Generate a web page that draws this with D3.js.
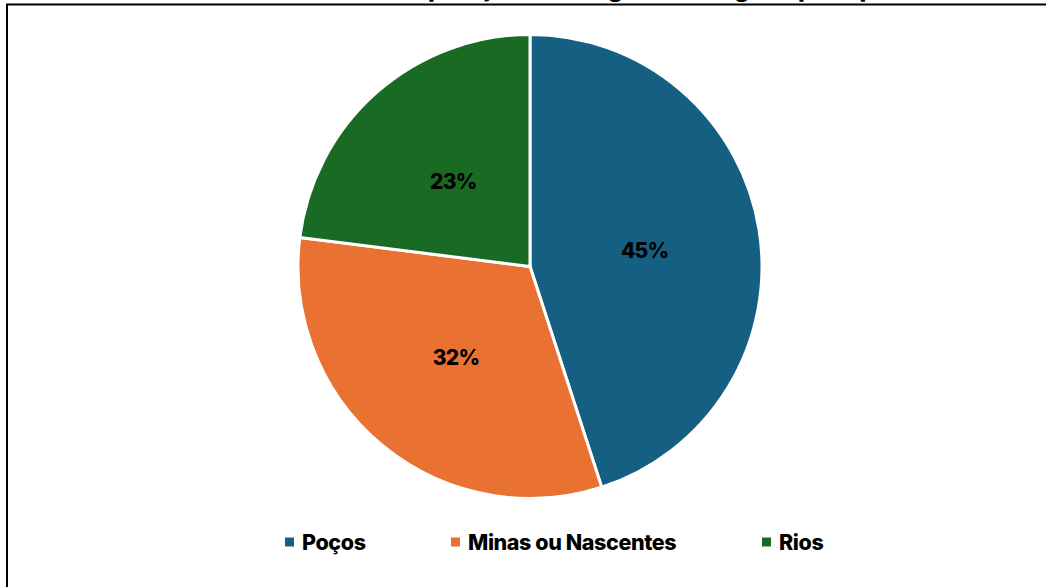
<!DOCTYPE html>
<html>
<head>
<meta charset="utf-8">
<script src="https://cdn.jsdelivr.net/npm/d3@7"></script>
<style>
  html, body { margin: 0; padding: 0; background: #fff; }
  svg { display: block; }
  text { font-family: Inter, "Liberation Sans", sans-serif; font-weight: 800; fill: #000; }
</style>
</head>
<body>
<svg id="chart" width="1046" height="587"></svg>
<script>
// Water source shares
const categories = ["Poços", "Minas ou Nascentes", "Rios"];
const shares = [45, 32, 23];
const colors = ["#156082", "#E97132", "#196B24"];
const title = "Composição das origens das águas por tipo";

const W = 1046, H = 587;
const svg = d3.select("#chart");

// Outer chart frame (extends past the right and bottom edges)
svg.append("rect")
  .attr("x", 7).attr("y", 4.5)
  .attr("width", W + 20).attr("height", H + 20)
  .attr("fill", "#fff")
  .attr("stroke", "#000")
  .attr("stroke-width", 2);

// Title sits above the frame; only its descenders reach into view
const titleText = svg.append("text")
  .attr("x", 0).attr("y", -3.5)
  .attr("font-size", 24)
  .attr("font-weight", 700)
  .text(title);
const pIndex = title.indexOf("posição");
const offset = titleText.node().getSubStringLength(0, pIndex);
titleText.attr("x", 428 - offset);

const cx = 530, cy = 266.5, R = 232;
const color = d3.scaleOrdinal().domain(categories).range(colors);

const pie = d3.pie().sort(null).value(d => d.value);
const data = categories.map((c, i) => ({ name: c, value: shares[i] }));
const arcs = pie(data);

const arc = d3.arc().innerRadius(0).outerRadius(R);
const labelArc = d3.arc().innerRadius(R * 0.5).outerRadius(R * 0.5);

const g = svg.append("g").attr("transform", `translate(${cx},${cy})`);

g.selectAll("path.slice")
  .data(arcs)
  .join("path")
  .attr("class", "slice")
  .attr("d", arc)
  .attr("fill", d => color(d.data.name))
  .attr("stroke", "#fff")
  .attr("stroke-width", 3)
  .attr("stroke-linejoin", "round");

const total = d3.sum(shares);
g.selectAll("text.lbl")
  .data(arcs)
  .join("text")
  .attr("class", "lbl")
  .attr("transform", d => `translate(${labelArc.centroid(d)})`)
  .attr("text-anchor", "middle")
  .attr("dominant-baseline", "central")
  .attr("dy", 2)
  .attr("font-size", 21)
  .attr("letter-spacing", -0.8)
  .text(d => Math.round(d.data.value / total * 100) + "%");

// Legend
const legendItems = [
  { name: categories[0], x: 285 },
  { name: categories[1], x: 451 },
  { name: categories[2], x: 762 }
];
const legendY = 542;
const lg = svg.append("g");
const item = lg.selectAll("g.item")
  .data(legendItems)
  .join("g")
  .attr("class", "item")
  .attr("transform", d => `translate(${d.x},${legendY})`);
item.append("rect")
  .attr("x", 0).attr("y", -4.5)
  .attr("width", 9).attr("height", 9)
  .attr("fill", d => color(d.name));
item.append("text")
  .attr("x", 17).attr("y", -0.5)
  .attr("dominant-baseline", "central")
  .attr("font-size", 21.5)
  .attr("letter-spacing", -0.4)
  .text(d => d.name);
</script>
</body>
</html>
